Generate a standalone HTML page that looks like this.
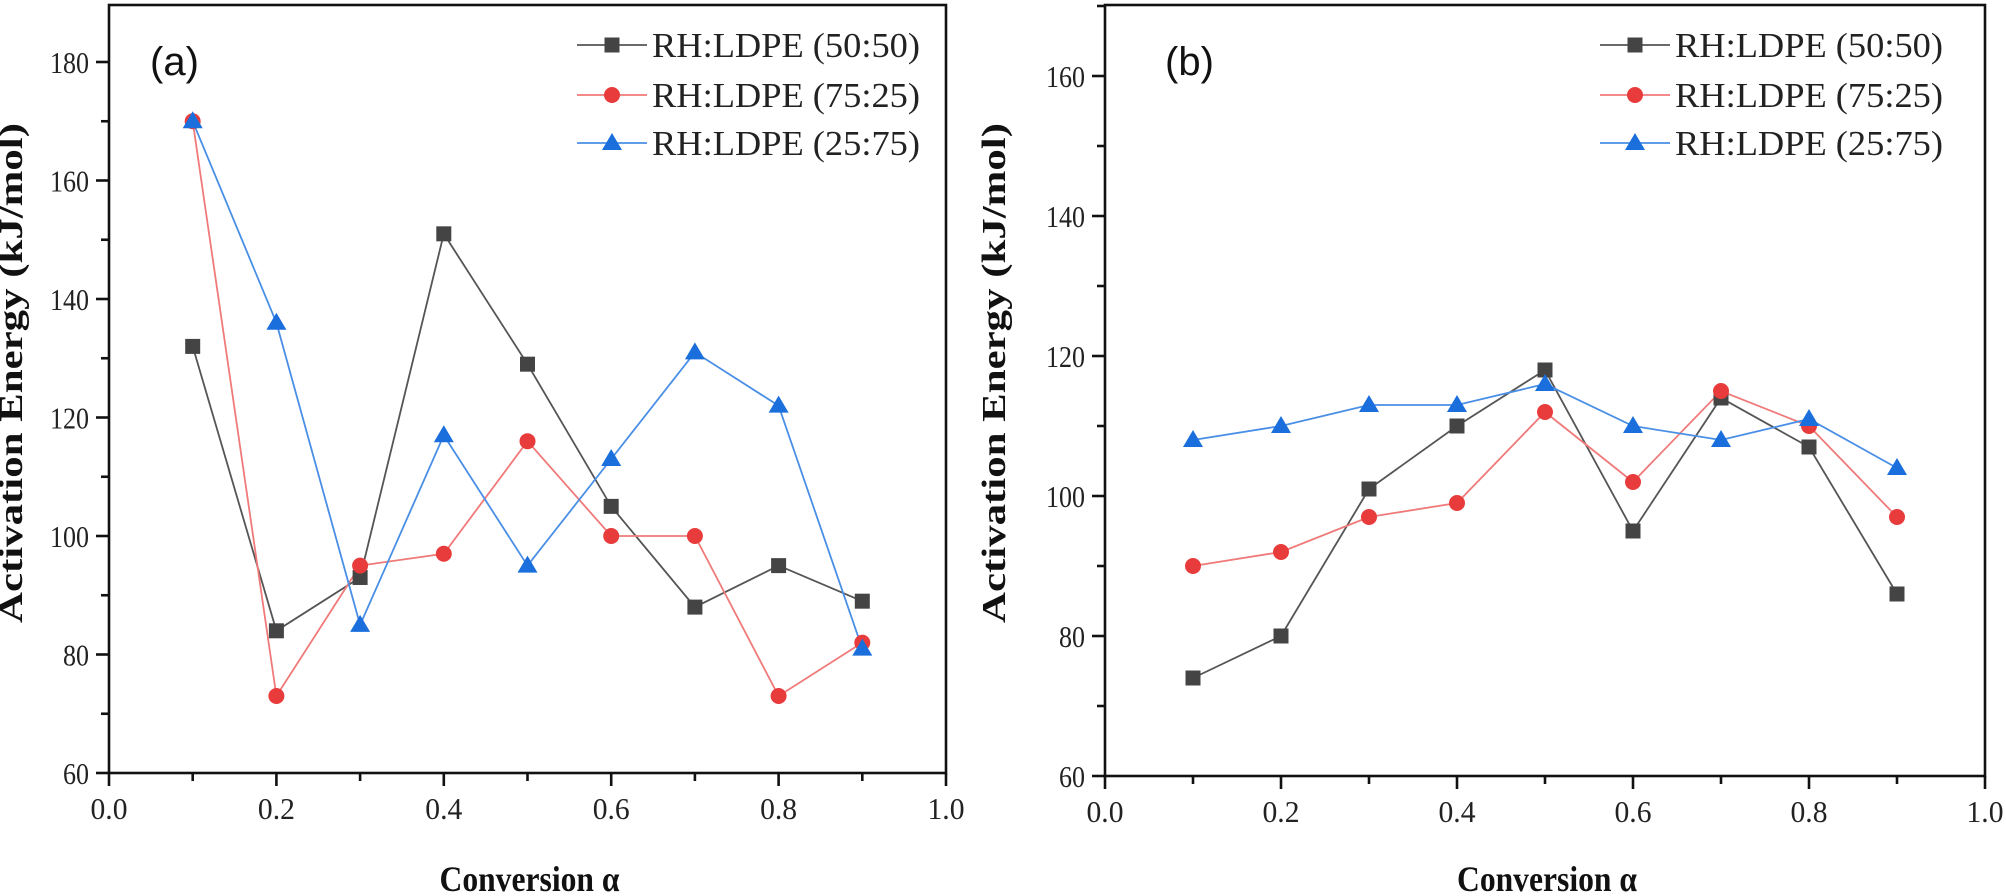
<!DOCTYPE html>
<html><head><meta charset="utf-8"><style>
html,body{margin:0;padding:0;background:#fff;}
svg{display:block;}
text{font-family:"Liberation Serif",serif;}
</style></head><body>
<svg id="s" width="2006" height="896" xmlns="http://www.w3.org/2000/svg"></svg>
<script>
const S=document.getElementById('s');let h='';
function panel(o){
 const {x0,x1,yb,yt,vmin,vtop,major,minor,lab,labx,ytx,legx,data}=o;
 const X=v=>x0+(x1-x0)*v, Y=v=>yb-(v-vmin)/(vtop-vmin)*(yb-yt);
 const cols=[['#555','#444','sq'],['#f07a7a','#e83c3c','ci'],['#4a8fe6','#1a6fdc','tr']];
 data.forEach((d,i)=>{
  const [lc,mc,m]=cols[i];
  let pts=d.map((v,k)=>X(0.1*(k+1)).toFixed(1)+','+Y(v).toFixed(1)).join(' ');
  h+=`<polyline points="${pts}" fill="none" stroke="${lc}" stroke-width="1.8"/>`;
 });
 data.forEach((d,i)=>{
  const [lc,mc,m]=cols[i];
  d.forEach((v,k)=>{h+=mk(m,X(0.1*(k+1)),Y(v),mc);});
 });
 h+=`<rect x="${x0}" y="${yt}" width="${x1-x0}" height="${yb-yt}" fill="none" stroke="#111" stroke-width="2.6"/>`;
 for(let v=vmin;v<=vtop;v+=minor){
  const isM=Math.abs((v-vmin)%major)<1e-6; const y=Y(v);
  h+=`<line x1="${x0-(isM?13:8)}" y1="${y}" x2="${x0}" y2="${y}" stroke="#111" stroke-width="2.6"/>`;
  if(isM) h+=`<text x="${x0-20}" y="${y+11}" font-size="31" text-anchor="end" fill="#222" textLength="${String(v).length*13}" lengthAdjust="spacingAndGlyphs">${v}</text>`;
 }
 for(let k=0;k<=10;k++){
  const x=X(k/10),isM=k%2==0;
  h+=`<line x1="${x}" y1="${yb}" x2="${x}" y2="${yb+(isM?13:8)}" stroke="#111" stroke-width="2.6"/>`;
  if(isM) h+=`<text x="${x}" y="${yb+46}" font-size="31" text-anchor="middle" fill="#222" textLength="37" lengthAdjust="spacingAndGlyphs">${(k/10).toFixed(1)}</text>`;
 }
 h+=`<text x="${(x0+x1)/2+2}" y="${891}" font-size="36" font-weight="bold" text-anchor="middle" fill="#111" textLength="180" lengthAdjust="spacingAndGlyphs">Conversion α</text>`;
 h+=`<text transform="translate(${ytx},373) rotate(-90)" font-size="34" font-weight="bold" text-anchor="middle" fill="#111" textLength="500" lengthAdjust="spacingAndGlyphs">Activation Energy (kJ/mol)</text>`;
 h+=`<text x="${labx}" y="75" font-size="40" fill="#111" style="font-family:'Liberation Sans',sans-serif">${lab}</text>`;
 const names=['RH:LDPE (50:50)','RH:LDPE (75:25)','RH:LDPE (25:75)'];const ly=[45,95,143];
 names.forEach((n,i)=>{
  const [lc,mc,m]=cols[i];
  h+=`<line x1="${legx}" y1="${ly[i]}" x2="${legx+70}" y2="${ly[i]}" stroke="${lc}" stroke-width="1.8"/>`;
  h+=mk(m,legx+35,ly[i],mc);
  h+=`<text x="${legx+75}" y="${ly[i]+12}" font-size="35" fill="#222" textLength="268" lengthAdjust="spacingAndGlyphs">${n}</text>`;
 });
}
function mk(m,x,y,c){
 if(m=='sq') return `<rect x="${x-7.5}" y="${y-7.5}" width="15" height="15" fill="${c}"/>`;
 if(m=='ci') return `<circle cx="${x}" cy="${y}" r="8" fill="${c}"/>`;
 return `<polygon points="${x},${y-10} ${x+10},${y+7} ${x-10},${y+7}" fill="${c}"/>`;
}
panel({x0:109,x1:946,yb:773,yt:5,vmin:60,vtop:60+(773-5)/118.5*20,major:20,minor:10,lab:'(a)',labx:150,ytx:22,legx:577,
 data:[[132,84,93,151,129,105,88,95,89],[170,73,95,97,116,100,100,73,82],[170,136,85,117,95,113,131,122,81]]});
panel({x0:1105,x1:1985,yb:776,yt:5,vmin:60,vtop:60+(776-5)/140*20,major:20,minor:10,lab:'(b)',labx:1165,ytx:1005,legx:1600,
 data:[[74,80,101,110,118,95,114,107,86],[90,92,97,99,112,102,115,110,97],[108,110,113,113,116,110,108,111,104]]});
S.innerHTML=h;
</script>
</body></html>
